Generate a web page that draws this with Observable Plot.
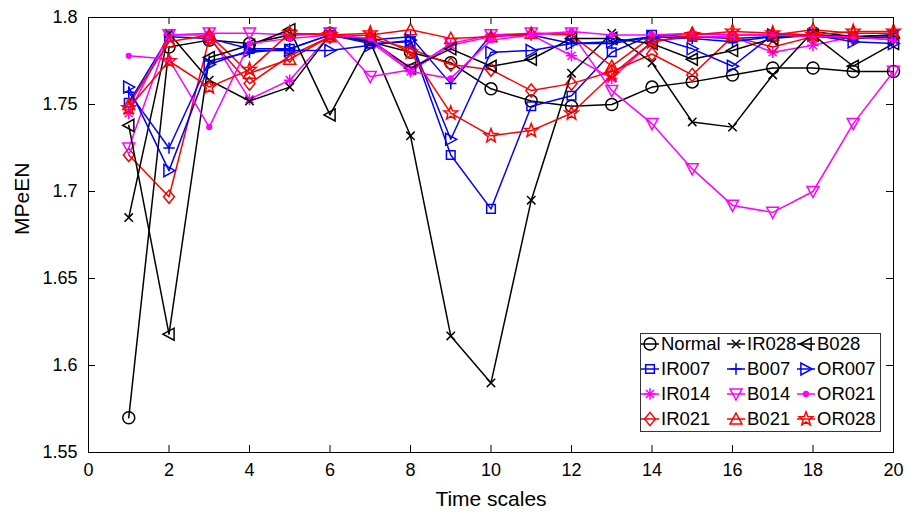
<!DOCTYPE html>
<html><head><meta charset="utf-8">
<script src="https://cdn.jsdelivr.net/npm/d3@7"></script>
<script src="https://cdn.jsdelivr.net/npm/@observablehq/plot@0.6"></script>
<style>
body{margin:0;background:#fff;}
#wrap{position:relative;width:917px;height:515px;font-family:"Liberation Sans",Arial,sans-serif;}
#legend{position:absolute;left:640px;top:333px;}
</style></head><body><div id="wrap"></div>
<script>
const timeScales = [1,2,3,4,5,6,7,8,9,10,11,12,13,14,15,16,17,18,19,20];
const xTicks = [0,2,4,6,8,10,12,14,16,18,20];
const yTicks = [1.55,1.6,1.65,1.7,1.75,1.8];

const Normal = [1.570,1.783,1.787,1.785,1.790,1.791,1.786,1.780,1.774,1.759,1.752,1.749,1.750,1.760,1.763,1.767,1.771,1.771,1.769,1.769];
const IR007  = [1.751,1.789,1.788,1.782,1.782,1.790,1.785,1.786,1.721,1.690,1.749,1.755,1.780,1.790,1.789,1.788,1.789,1.790,1.789,1.790];
const IR014  = [1.745,1.790,1.790,1.753,1.764,1.790,1.786,1.769,1.784,1.789,1.790,1.778,1.765,1.786,1.789,1.789,1.780,1.784,1.789,1.787];
const IR021  = [1.721,1.697,1.788,1.762,1.778,1.789,1.788,1.782,1.773,1.770,1.758,1.762,1.769,1.779,1.767,1.789,1.783,1.789,1.788,1.789];
const IR028  = [1.685,1.791,1.764,1.752,1.760,1.790,1.786,1.732,1.617,1.590,1.695,1.768,1.791,1.774,1.740,1.737,1.767,1.792,1.789,1.790];
const B007   = [1.757,1.725,1.775,1.780,1.782,1.790,1.787,1.789,1.762,1.790,1.790,1.785,1.785,1.789,1.788,1.786,1.789,1.790,1.788,1.789];
const B014   = [1.725,1.790,1.791,1.791,1.790,1.791,1.766,1.770,1.785,1.790,1.791,1.791,1.758,1.739,1.713,1.692,1.688,1.700,1.739,1.769];
const B021   = [1.750,1.786,1.790,1.768,1.776,1.789,1.790,1.793,1.788,1.789,1.791,1.790,1.772,1.789,1.791,1.790,1.790,1.793,1.791,1.791];
const B028   = [1.738,1.618,1.777,1.784,1.793,1.744,1.787,1.771,1.782,1.772,1.776,1.788,1.788,1.785,1.776,1.781,1.788,1.790,1.772,1.785];
const OR007  = [1.760,1.712,1.773,1.781,1.781,1.781,1.784,1.787,1.730,1.780,1.781,1.785,1.786,1.789,1.782,1.772,1.790,1.790,1.786,1.785];
const OR021  = [1.778,1.776,1.737,1.785,1.788,1.790,1.788,1.769,1.765,1.787,1.790,1.792,1.790,1.790,1.791,1.790,1.790,1.789,1.789,1.787];
const OR028  = [1.748,1.775,1.760,1.770,1.791,1.790,1.791,1.780,1.745,1.732,1.735,1.745,1.767,1.786,1.790,1.792,1.791,1.790,1.792,1.792];

const seriesNames  = ["Normal","IR007","IR014","IR021","IR028","B007","B014","B021","B028","OR007","OR021","OR028"];
const seriesValues = [Normal,IR007,IR014,IR021,IR028,B007,B014,B021,B028,OR007,OR021,OR028];
const seriesColors = ["#000000","#0000ff","#ff00ff","#ff0000","#000000","#0000ff","#ff00ff","#ff0000","#000000","#0000ff","#ff00ff","#ff0000"];
const seriesMarkers= ["circle","square","asterisk","diamond","times","plus","triDown","triUp","triLeft","triRight","dot","star"];

function R(s){return Math.sqrt(s/Math.PI);}
function poly(c, pts){c.moveTo(pts[0][0],pts[0][1]); for(let i=1;i<pts.length;i++) c.lineTo(pts[i][0],pts[i][1]); c.closePath();}
const symbols = {
  circle:{draw(c,s){const r=R(s); c.moveTo(r,0); c.arc(0,0,r,0,2*Math.PI);}},
  square:{draw(c,s){const r=R(s)*0.72; poly(c,[[-r,-r],[r,-r],[r,r],[-r,r]]);}},
  diamond:{draw(c,s){const r=R(s); poly(c,[[0,-1.1*r],[0.9*r,0],[0,1.1*r],[-0.9*r,0]]);}},
  times:{draw(c,s){const r=R(s)*0.7; c.moveTo(-r,-r);c.lineTo(r,r);c.moveTo(-r,r);c.lineTo(r,-r);}},
  plus:{draw(c,s){const r=R(s)*0.95; c.moveTo(-r,0);c.lineTo(r,0);c.moveTo(0,-r);c.lineTo(0,r);}},
  asterisk:{draw(c,s){const r=R(s)*0.95,q=r*0.7; c.moveTo(-r,0);c.lineTo(r,0);c.moveTo(0,-r);c.lineTo(0,r);c.moveTo(-q,-q);c.lineTo(q,q);c.moveTo(-q,q);c.lineTo(q,-q);}},
  triUp:{draw(c,s){const r=R(s); poly(c,[[0,-r],[r,0.85*r],[-r,0.85*r]]);}},
  triDown:{draw(c,s){const r=R(s); poly(c,[[0,r],[r,-0.85*r],[-r,-0.85*r]]);}},
  triLeft:{draw(c,s){const r=R(s); poly(c,[[-r,0],[0.85*r,-r],[0.85*r,r]]);}},
  triRight:{draw(c,s){const r=R(s); poly(c,[[r,0],[-0.85*r,-r],[-0.85*r,r]]);}},
  dot:{draw(c,s){const r=R(s)*0.4; c.moveTo(r,0); c.arc(0,0,r,0,2*Math.PI);}},
  star:{draw(c,s){const r=R(s)*1.2, ri=r*0.42; const pts=[]; for(let k=0;k<10;k++){const a=-Math.PI/2+k*Math.PI/5; const rr=k%2?ri:r; pts.push([rr*Math.cos(a),rr*Math.sin(a)]);} poly(c,pts);}}
};

const marks = [];
seriesNames.forEach((name,si)=>{
  const data = timeScales.map((t,i)=>({t, v: seriesValues[si][i]}));
  const col = seriesColors[si], mk = seriesMarkers[si];
  marks.push(Plot.line(data,{x:"t",y:"v",stroke:col,strokeWidth:1.5}));
  marks.push(Plot.dot(data,{x:"t",y:"v",symbol:symbols[mk],r:6,stroke:col,fill: mk==="dot"?col:"none",strokeWidth:1.5}));
});

const W = 917, H = 515, mL = 88, mR = 24, mT = 17, mB = 63;
const innerW = W - mL - mR, innerH = H - mT - mB, tk = 7;
const fmtY = d => String(+d.toFixed(2));

const chart = Plot.plot({
  width:W, height:H,
  marginLeft:mL, marginRight:mR, marginTop:mT, marginBottom:mB,
  x:{domain:[0,20]},
  y:{domain:[1.55,1.8]},
  style:{fontFamily:'"Liberation Sans",Arial,sans-serif', fontSize:"18px", color:"black", background:"white", overflow:"visible"},
  marks:[
    ...marks,
    Plot.frame({stroke:"black",strokeWidth:1}),
    Plot.tickX(xTicks,{x:d=>d, insetTop:innerH-tk, stroke:"black"}),
    Plot.tickX(xTicks,{x:d=>d, insetBottom:innerH-tk, stroke:"black"}),
    Plot.tickY(yTicks,{y:d=>d, insetRight:innerW-tk, stroke:"black"}),
    Plot.tickY(yTicks,{y:d=>d, insetLeft:innerW-tk, stroke:"black"}),
    Plot.axisX(xTicks,{anchor:"bottom",tickSize:0,tickPadding:11,label:null,fontSize:18}),
    Plot.axisY(yTicks,{anchor:"left",tickSize:0,tickPadding:11,tickFormat:fmtY,label:null,fontSize:18}),
    Plot.text(["Time scales"],{frameAnchor:"bottom",dy:53,fontSize:21}),
    Plot.text(["MPeEN"],{frameAnchor:"left",rotate:-90,dx:-66,fontSize:21})
  ]
});
const wrap = document.getElementById("wrap");
wrap.appendChild(chart);

const rows = 4;
const lw = 241, lh = 99;
const colX = [10, 96, 166], rowY = [11, 36, 61, 86];
const lg = d3.select(wrap).append("svg").attr("id","legend").attr("width",lw).attr("height",lh)
  .style("font-family",'"Liberation Sans",Arial,sans-serif');
lg.append("rect").attr("x",0.5).attr("y",0.5).attr("width",lw-1).attr("height",lh-1).attr("fill","white").attr("stroke","#333").attr("stroke-width",1);
seriesNames.forEach((name,si)=>{
  const c = Math.floor(si/rows), r = si%rows;
  const cx = colX[c], cy = rowY[r], col = seriesColors[si], mk = seriesMarkers[si];
  const g = lg.append("g");
  g.append("line").attr("x1",cx-9).attr("x2",cx+9).attr("y1",cy).attr("y2",cy).attr("stroke",col).attr("stroke-width",1.5);
  g.append("path").attr("d",d3.symbol(symbols[mk], 36*Math.PI)()).attr("transform",`translate(${cx},${cy})`)
    .attr("stroke",col).attr("stroke-width",1.5).attr("fill",mk==="dot"?col:"none");
  g.append("text").attr("x",cx+11).attr("y",cy).attr("dy","0.35em").attr("font-size",18.5).attr("fill","black").text(name);
});
</script></body></html>
